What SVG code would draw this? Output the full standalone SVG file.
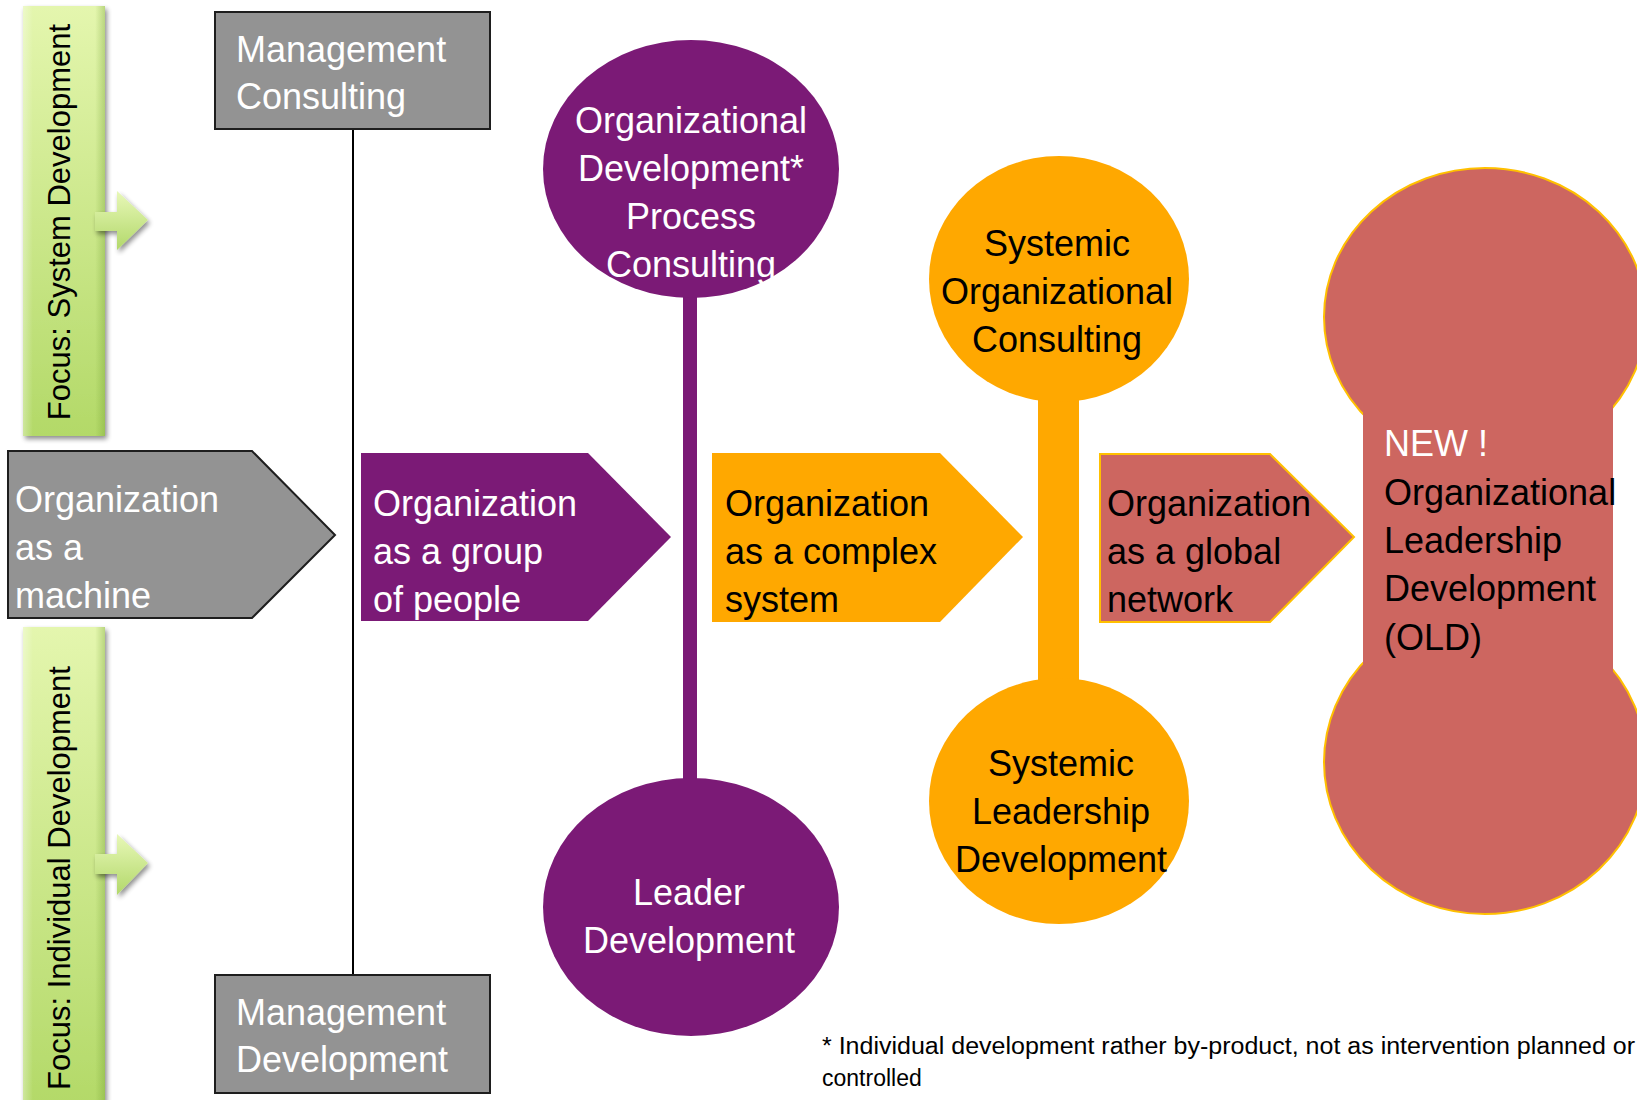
<svg xmlns="http://www.w3.org/2000/svg" width="1637" height="1100" viewBox="0 0 1637 1100">
  <style>
    text { font-family: "Liberation Sans", Arial, sans-serif; }
    .lbl { font-size: 36px; }
    .w { fill: #ffffff; }
    .k { fill: #000000; }
    .mid { text-anchor: middle; }
    .grey { fill: #939393; stroke: #1e1e1e; stroke-width: 2; }
    .purple { fill: #7b1a76; }
    .orange { fill: #ffa800; }
    .red { fill: #cd6660; }
    .focus { font-size: 31px; fill: #000; text-anchor: middle; }
    .note { font-size: 23px; fill: #000; }
  </style>
  <defs>
    <linearGradient id="barFill" x1="0" y1="0" x2="0" y2="1">
      <stop offset="0" stop-color="#e4f6ae"/>
      <stop offset="1" stop-color="#b3d968"/>
    </linearGradient>
    <linearGradient id="barEdge" x1="0" y1="0" x2="1" y2="0">
      <stop offset="0" stop-color="#ffffff" stop-opacity="0.35"/>
      <stop offset="0.12" stop-color="#ffffff" stop-opacity="0"/>
      <stop offset="0.88" stop-color="#6b9a2a" stop-opacity="0"/>
      <stop offset="1" stop-color="#6b9a2a" stop-opacity="0.35"/>
    </linearGradient>
    <linearGradient id="arrowFill" x1="0" y1="0" x2="0" y2="1">
      <stop offset="0" stop-color="#e8f8b8"/>
      <stop offset="1" stop-color="#b2d86a"/>
    </linearGradient>
    <filter id="shadow" x="-20%" y="-5%" width="150%" height="115%">
      <feGaussianBlur in="SourceAlpha" stdDeviation="2.5"/>
      <feOffset dx="2" dy="3" result="b"/>
      <feComponentTransfer><feFuncA type="linear" slope="0.45"/></feComponentTransfer>
      <feMerge><feMergeNode/><feMergeNode in="SourceGraphic"/></feMerge>
    </filter>
  </defs>

  <!-- connectors: thin line between management boxes, thick stems between circles -->
  <g id="connectors">
    <line x1="353" y1="129" x2="353" y2="975" stroke="#000" stroke-width="2"/>
    <rect x="683" y="280" width="14" height="520" class="purple"/>
    <rect x="1038" y="380" width="41" height="320" class="orange"/>
  </g>

  <!-- focus bars -->
  <g id="focus-system">
    <rect x="23" y="6" width="82" height="430" fill="url(#barFill)" filter="url(#shadow)"/>
    <rect x="23" y="6" width="82" height="430" fill="url(#barEdge)"/>
    <polygon points="95,212 117,212 117,191 148,220 117,250 117,231 95,231" fill="url(#arrowFill)" filter="url(#shadow)"/>
    <text class="focus" transform="translate(70,222) rotate(-90)">Focus: System Development</text>
  </g>
  <g id="focus-individual">
    <rect x="23" y="627" width="82" height="480" fill="url(#barFill)" filter="url(#shadow)"/>
    <rect x="23" y="627" width="82" height="480" fill="url(#barEdge)"/>
    <polygon points="95,854 117,854 117,834 148,863 117,895 117,874 95,874" fill="url(#arrowFill)" filter="url(#shadow)"/>
    <text class="focus" transform="translate(70,878) rotate(-90)">Focus: Individual Development</text>
  </g>

  <!-- management boxes -->
  <g id="management-consulting">
    <rect x="215" y="12" width="275" height="117" class="grey"/>
    <text class="lbl w" x="236" y="62">Management</text>
    <text class="lbl w" x="236" y="109">Consulting</text>
  </g>
  <g id="management-development">
    <rect x="215" y="975" width="275" height="118" class="grey"/>
    <text class="lbl w" x="236" y="1025">Management</text>
    <text class="lbl w" x="236" y="1072">Development</text>
  </g>

  <!-- organization stage arrows -->
  <g id="org-machine">
    <polygon points="8,451 252,451 335,535 252,618 8,618" class="grey"/>
    <text class="lbl w" x="15" y="512">Organization</text>
    <text class="lbl w" x="15" y="560">as a</text>
    <text class="lbl w" x="15" y="608">machine</text>
  </g>
  <g id="org-people">
    <polygon points="361,453 588,453 671,537 588,621 361,621" class="purple"/>
    <text class="lbl w" x="373" y="516">Organization</text>
    <text class="lbl w" x="373" y="564">as a group</text>
    <text class="lbl w" x="373" y="612">of people</text>
  </g>
  <g id="org-complex">
    <polygon points="712,453 940,453 1023,537 940,622 712,622" class="orange"/>
    <text class="lbl k" x="725" y="516">Organization</text>
    <text class="lbl k" x="725" y="564">as a complex</text>
    <text class="lbl k" x="725" y="612">system</text>
  </g>
  <g id="org-network">
    <polygon points="1100,454 1270,454 1354,537 1270,622 1100,622" class="red" stroke="#ffc000" stroke-width="2"/>
    <text class="lbl k" x="1107" y="516">Organization</text>
    <text class="lbl k" x="1107" y="564">as a global</text>
    <text class="lbl k" x="1107" y="612">network</text>
  </g>

  <!-- purple circles -->
  <g id="od-process-consulting">
    <ellipse cx="691" cy="169" rx="148" ry="129" class="purple"/>
    <text class="lbl w mid" x="691" y="133">Organizational</text>
    <text class="lbl w mid" x="691" y="181">Development*</text>
    <text class="lbl w mid" x="691" y="229">Process</text>
    <text class="lbl w mid" x="691" y="277">Consulting</text>
  </g>
  <g id="leader-development">
    <ellipse cx="691" cy="907" rx="148" ry="129" class="purple"/>
    <text class="lbl w mid" x="689" y="905">Leader</text>
    <text class="lbl w mid" x="689" y="953">Development</text>
  </g>

  <!-- orange circles -->
  <g id="systemic-consulting">
    <ellipse cx="1059" cy="279" rx="130" ry="123" class="orange"/>
    <text class="lbl k mid" x="1057" y="256">Systemic</text>
    <text class="lbl k mid" x="1057" y="304">Organizational</text>
    <text class="lbl k mid" x="1057" y="352">Consulting</text>
  </g>
  <g id="systemic-leadership">
    <ellipse cx="1059" cy="801" rx="130" ry="123" class="orange"/>
    <text class="lbl k mid" x="1061" y="776">Systemic</text>
    <text class="lbl k mid" x="1061" y="824">Leadership</text>
    <text class="lbl k mid" x="1061" y="872">Development</text>
  </g>

  <!-- organizational leadership development -->
  <g id="old">
    <ellipse cx="1485" cy="317" rx="161" ry="149" class="red" stroke="#ffc000" stroke-width="2"/>
    <ellipse cx="1485" cy="762" rx="161" ry="152" class="red" stroke="#ffc000" stroke-width="2"/>
    <rect x="1363" y="400" width="250" height="280" class="red"/>
    <text class="lbl w" x="1384" y="456">NEW !</text>
    <text class="lbl k" x="1384" y="505">Organizational</text>
    <text class="lbl k" x="1384" y="553">Leadership</text>
    <text class="lbl k" x="1384" y="601">Development</text>
    <text class="lbl k" x="1384" y="650">(OLD)</text>
  </g>

  <!-- footnote -->
  <g id="footnote">
    <text class="note" x="822" y="1054" textLength="813" lengthAdjust="spacingAndGlyphs">* Individual development rather by-product, not as intervention planned or</text>
    <text class="note" x="822" y="1086">controlled</text>
  </g>
</svg>
